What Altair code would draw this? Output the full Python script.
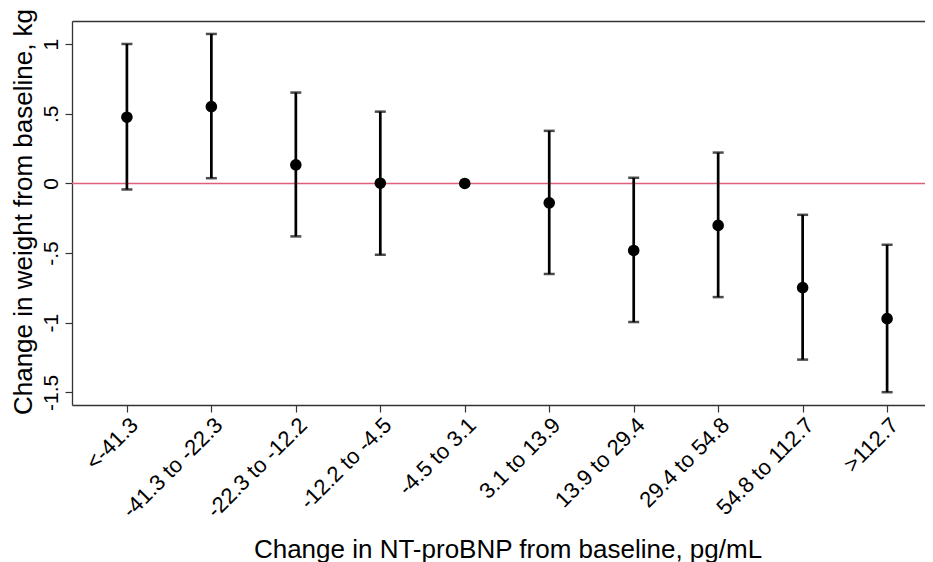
import altair as alt
import pandas as pd

categories = ["<-41.3", "-41.3 to -22.3", "-22.3 to -12.2", "-12.2 to -4.5", "-4.5 to 3.1",
              "3.1 to 13.9", "13.9 to 29.4", "29.4 to 54.8", "54.8 to 112.7", ">112.7"]
estimate = [0.476, 0.552, 0.134, 0.002, 0.0, -0.139, -0.481, -0.301, -0.748, -0.971]
upper = [1.002, 1.074, 0.653, 0.516, None, 0.378, 0.041, 0.222, -0.225, -0.440]
lower = [-0.043, 0.038, -0.380, -0.512, None, -0.650, -0.995, -0.816, -1.265, -1.499]
y_ticks = [-1.5, -1, -0.5, 0, 0.5, 1]
reference_value = [0]

df = pd.DataFrame({"cat": categories, "est": estimate, "hi": upper, "lo": lower})
ci = df.dropna()
zero_df = pd.DataFrame({"y": reference_value})

FONT = "Liberation Sans"
yscale = alt.Scale(domain=[-1.591, 1.167], nice=False, zero=False)
xscale = alt.Scale(type="point", range=[0, 870], padding=0.65)

yaxis = alt.Axis(
    values=y_ticks,
    labelExpr="replace(toString(datum.value), '0.', '.')",
    labelAngle=270, labelAlign="center", labelBaseline="alphabetic",
    labelPadding=8, labelFontSize=21, tickSize=7,
    title="Change in weight from baseline, kg", titleAngle=270,
    titleAlign="center", titleBaseline="alphabetic",
    titleX=-41, titleY=190.5, titleFontSize=26,
)
xaxis = alt.Axis(
    labelAngle=315, labelAlign="right", labelBaseline="top",
    labelPadding=2, labelFontSize=22, tickSize=7,
    title="Change in NT-proBNP from baseline, pg/mL",
    titleAlign="center", titleBaseline="alphabetic",
    titleX=435.5, titleY=152, titleFontSize=26,
)
xtop = alt.Axis(orient="top", labels=False, ticks=False, title=None, domain=True)

zero = alt.Chart(zero_df).mark_rule(color="#e0607c", strokeWidth=1.5).encode(
    y=alt.Y("y:Q", scale=yscale, axis=yaxis)
)
bars = alt.Chart(ci).mark_rule(color="black", strokeWidth=2.7).encode(
    x=alt.X("cat:N", sort=categories, scale=xscale, axis=xaxis),
    y=alt.Y("lo:Q", scale=yscale, axis=yaxis),
    y2="hi:Q",
)
cap_hi = alt.Chart(ci).mark_tick(color="black", size=11, thickness=2.5, orient="horizontal").encode(
    x=alt.X("cat:N", sort=categories, scale=xscale, axis=None),
    y=alt.Y("hi:Q", scale=yscale, axis=yaxis),
)
cap_lo = alt.Chart(ci).mark_tick(color="black", size=11, thickness=2.5, orient="horizontal").encode(
    x=alt.X("cat:N", sort=categories, scale=xscale, axis=None),
    y=alt.Y("lo:Q", scale=yscale, axis=yaxis),
)
points = alt.Chart(df).mark_circle(color="black", size=135, opacity=1).encode(
    x=alt.X("cat:N", sort=categories, scale=xscale, axis=None),
    y=alt.Y("est:Q", scale=yscale, axis=yaxis),
)
topframe = alt.Chart(df).mark_circle(opacity=0).encode(
    x=alt.X("cat:N", sort=categories, scale=xscale, axis=xtop),
    y=alt.Y("est:Q", scale=yscale, axis=yaxis),
)

chart = alt.layer(zero, bars, cap_hi, cap_lo, points, topframe).resolve_axis(
    x="independent"
).properties(
    width=853, height=384,
    autosize=alt.AutoSizeParams(type="none"),
    padding={"left": 64, "top": 13, "right": 0, "bottom": 157},
).configure_view(stroke=None).configure_axis(
    grid=False, domainColor="#333333", domainWidth=1.3, tickColor="#333333",
    tickWidth=1.2, labelColor="black", titleColor="black", labelFont=FONT,
    titleFont=FONT, titleFontWeight="normal",
)

chart.save("out.html", embed_options={"renderer": "svg", "actions": False})
